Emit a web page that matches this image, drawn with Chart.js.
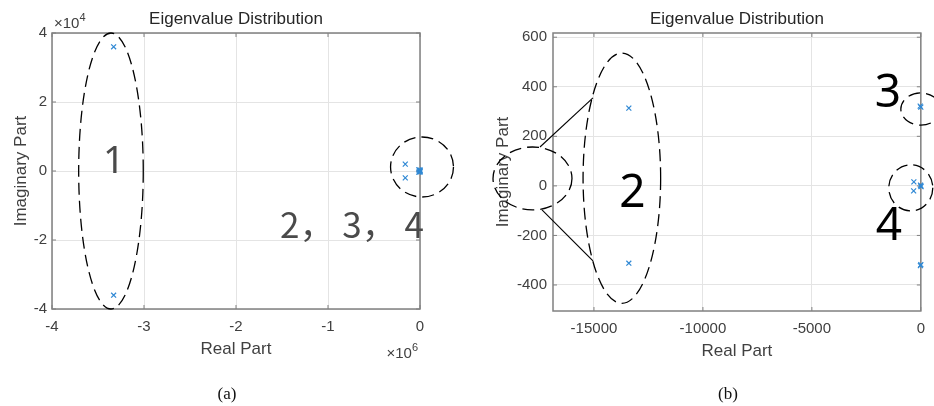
<!DOCTYPE html>
<html>
<head>
<meta charset="utf-8">
<script src="https://cdn.jsdelivr.net/npm/chart.js@4.4.1/dist/chart.umd.min.js"></script>
<style>
body { margin: 0; background: #fff; }
#wrap { position: relative; width: 934px; height: 406px; overflow: hidden; }
canvas { position: absolute; top: 0; }
#chart-a { left: 0; }
#chart-b { left: 467px; }
.cap { position: absolute; top: 384px; line-height: 20px; font: 17px "Liberation Serif", "DejaVu Serif", serif; color: #111; transform: translateX(-50%); }
</style>
</head>
<body>
<div id="wrap">
  <canvas id="chart-a" width="467" height="406"></canvas>
  <canvas id="chart-b" width="467" height="406"></canvas>
  <div class="cap" style="left:227px">(a)</div>
  <div class="cap" style="left:728px">(b)</div>
</div>
<script>
// (a) full spectrum
var realA = [-3.33e6, -3.33e6, -1.6e5, -1.6e5, -13400, -13400, 0, 0, -320, -330, 0];
var imagA = [3.6e4, -3.6e4, 2000, -2000, 314, -312, 318, -318, 16, -20, 0];
var xTicksA = [-4e6, -3e6, -2e6, -1e6, 0];
var yTicksA = [-4e4, -2e4, 0, 2e4, 4e4];

// (b) zoom near the origin
var realB = [-13400, -13400, 0, -30, 0, -20, -320, -330, 0, -15, 10];
var imagB = [314, -312, 318, 322, -318, -322, 16, -20, 0, 3, -3];
var xTicksB = [-15000, -10000, -5000, 0];
var yTicksB = [-400, -200, 0, 200, 400, 600];

var blue = '#2f88d4';
var tickColor = '#404040';
var sans = '"Liberation Sans", Arial, sans-serif';

function marksPlugin(marks) {
    return {
        id: 'marks',
        beforeDatasetsDraw: function(chart) {
            var ctx = chart.ctx, a = chart.chartArea;
            ctx.save();
            ctx.strokeStyle = '#808080';
            ctx.lineWidth = 1.5;
            ctx.strokeRect(a.left, a.top, a.right - a.left, a.bottom - a.top);
            // inward tick marks like matlab
            ctx.lineWidth = 1;
            ctx.beginPath();
            chart.scales.x.ticks.forEach(function(t) {
                var px = chart.scales.x.getPixelForValue(t.value);
                ctx.moveTo(px, a.bottom); ctx.lineTo(px, a.bottom - 4);
                ctx.moveTo(px, a.top); ctx.lineTo(px, a.top + 4);
            });
            chart.scales.y.ticks.forEach(function(t) {
                var py = chart.scales.y.getPixelForValue(t.value);
                ctx.moveTo(a.left, py); ctx.lineTo(a.left + 4, py);
                ctx.moveTo(a.right, py); ctx.lineTo(a.right - 4, py);
            });
            ctx.stroke();
            ctx.restore();
        },
        afterDraw: function(chart) {
            var ctx = chart.ctx, xs = chart.scales.x, ys = chart.scales.y, a = chart.chartArea;
            ctx.save();
            ctx.strokeStyle = '#000';
            ctx.lineWidth = 1.3;
            ctx.setLineDash([12, 6]);
            marks.ellipses.forEach(function(e) {
                var cx = xs.getPixelForValue(e.x), cy = ys.getPixelForValue(e.y);
                var rx = Math.abs(xs.getPixelForValue(e.x + e.rx) - cx);
                var ry = Math.abs(ys.getPixelForValue(e.y + e.ry) - cy);
                ctx.beginPath();
                ctx.ellipse(cx, cy, rx, ry, 0, 0, Math.PI * 2);
                ctx.stroke();
            });
            ctx.setLineDash([]);
            ctx.lineWidth = 1.1;
            marks.lines.forEach(function(l) {
                ctx.beginPath();
                ctx.moveTo(xs.getPixelForValue(l[0]), ys.getPixelForValue(l[1]));
                ctx.lineTo(xs.getPixelForValue(l[2]), ys.getPixelForValue(l[3]));
                ctx.stroke();
            });
            marks.labels.forEach(function(t) {
                ctx.font = t.size + 'px ' + t.family;
                ctx.fillStyle = t.color;
                ctx.textAlign = t.align || 'center';
                ctx.textBaseline = 'middle';
                ctx.fillText(t.text, xs.getPixelForValue(t.x), ys.getPixelForValue(t.y));
            });
            // axis exponents
            ctx.fillStyle = tickColor;
            ctx.textBaseline = 'alphabetic';
            marks.exponents.forEach(function(ex) {
                ctx.font = '15px ' + sans;
                var w1 = ctx.measureText('\u00d710').width;
                ctx.font = '11px ' + sans;
                var w2 = ctx.measureText(ex.power).width;
                var x0 = ex.side === 'top' ? a.left + 2 : a.right - 2 - w1 - w2;
                var y0 = ex.side === 'top' ? a.top - 5 : a.bottom + 49;
                ctx.textAlign = 'left';
                ctx.font = '15px ' + sans;
                ctx.fillText('\u00d710', x0, y0);
                ctx.font = '11px ' + sans;
                ctx.fillText(ex.power, x0 + w1, y0 - 7);
            });
            ctx.restore();
        }
    };
}

function scatterChart(canvasId, real, imag, ax, marks) {
    var points = real.map(function(x, i) {
        return { x: x, y: imag[i] };
    });
    return new Chart(document.getElementById(canvasId), {
        type: 'scatter',
        data: {
            datasets: [{
                data: points,
                pointStyle: 'crossRot',
                radius: 3.5,
                borderColor: blue,
                backgroundColor: blue,
                borderWidth: 1.2,
                clip: false
            }]
        },
        options: {
            responsive: false,
            animation: false,
            events: [],
            layout: { padding: { left: 0, top: 0, right: ax.padRight, bottom: 0 } },
            plugins: {
                legend: { display: false },
                tooltip: { enabled: false },
                title: {
                    display: true,
                    fullSize: false,
                    text: 'Eigenvalue Distribution',
                    color: '#262626',
                    font: { family: sans, size: 17, weight: 'normal' },
                    padding: { top: 8.8, bottom: 3.8 }
                }
            },
            scales: {
                x: {
                    type: 'linear',
                    min: ax.xMin, max: ax.xMax,
                    afterFit: function(s) { s.height = ax.xHeight; },
                    afterBuildTicks: function(s) { s.ticks = ax.xTicks.map(function(v) { return { value: v }; }); },
                    ticks: {
                        callback: ax.xLabel, padding: 9, color: tickColor, maxRotation: 0,
                        font: { family: sans, size: 15 }
                    },
                    grid: { color: '#e4e4e4', drawTicks: false },
                    border: { display: false },
                    title: {
                        display: true, text: 'Real Part', color: tickColor,
                        font: { family: sans, size: 17 },
                        padding: { top: 0, bottom: ax.xTitlePad }
                    }
                },
                y: {
                    type: 'linear',
                    min: ax.yMin, max: ax.yMax,
                    afterFit: function(s) { s.width = ax.yWidth; },
                    afterBuildTicks: function(s) { s.ticks = ax.yTicks.map(function(v) { return { value: v }; }); },
                    ticks: {
                        callback: ax.yLabel, padding: ax.yTickPad, color: tickColor,
                        font: { family: sans, size: 15 }
                    },
                    grid: { color: '#e4e4e4', drawTicks: false },
                    border: { display: false },
                    title: {
                        display: true, text: 'Imaginary Part', color: tickColor,
                        font: { family: sans, size: 17 },
                        padding: { top: ax.yTitlePad, bottom: 0 }
                    }
                }
            }
        },
        plugins: [marksPlugin(marks)]
    });
}

scatterChart('chart-a', realA, imagA, {
    xMin: -4e6, xMax: 0, yMin: -4e4, yMax: 4e4,
    xTicks: xTicksA, yTicks: yTicksA,
    xLabel: function(v) { return String(v / 1e6); },
    yLabel: function(v) { return String(v / 1e4); },
    padRight: 47, xHeight: 97, yWidth: 52, xTitlePad: 46.8, yTitlePad: 10.8, yTickPad: 5
}, {
    ellipses: [
        { x: -3.359e6, y: 0, rx: 0.351e6, ry: 4e4 },
        { x: 2.2e4, y: 1160, rx: 0.342e6, ry: 8700 }
    ],
    lines: [],
    labels: [
        { text: '1', x: -3.327e6, y: 2600, size: 38, color: '#4a4a4a', family: '"Noto Sans", sans-serif' },
        { text: '2\uff0c 3\uff0c 4', x: -1.521e6, y: -1.565e4, size: 35, color: '#4a4a4a', align: 'left', family: '"Noto Sans CJK SC", "Noto Sans", sans-serif' }
    ],
    exponents: [
        { side: 'top', power: '4' },
        { side: 'bottom', power: '6' }
    ]
});

scatterChart('chart-b', realB, imagB, {
    xMin: -16880, xMax: 0, yMin: -505, yMax: 617,
    xTicks: xTicksB, yTicks: yTicksB,
    xLabel: function(v) { return String(v); },
    yLabel: function(v) { return String(v); },
    padRight: 13, xHeight: 95, yWidth: 86, xTitlePad: 44.8, yTitlePad: 26.3, yTickPad: 6
}, {
    ellipses: [
        { x: -13720, y: 31, rx: 1780, ry: 505 },
        { x: -17821, y: 30, rx: 1812, ry: 127 },
        { x: 0, y: 310, rx: 917, ry: 65 },
        { x: -460, y: -8, rx: 1010, ry: 93 }
    ],
    lines: [
        [-17477, 157, -15046, 355],
        [-17385, -97, -15046, -303]
    ],
    labels: [
        { text: '2', x: -13234, y: -31, size: 46, color: '#000', family: '"Noto Sans", sans-serif' },
        { text: '3', x: -1514, y: 373, size: 46, color: '#000', family: '"Noto Sans", sans-serif' },
        { text: '4', x: -1468, y: -164, size: 46, color: '#000', family: '"Noto Sans", sans-serif' }
    ],
    exponents: []
});
</script>
</body>
</html>
